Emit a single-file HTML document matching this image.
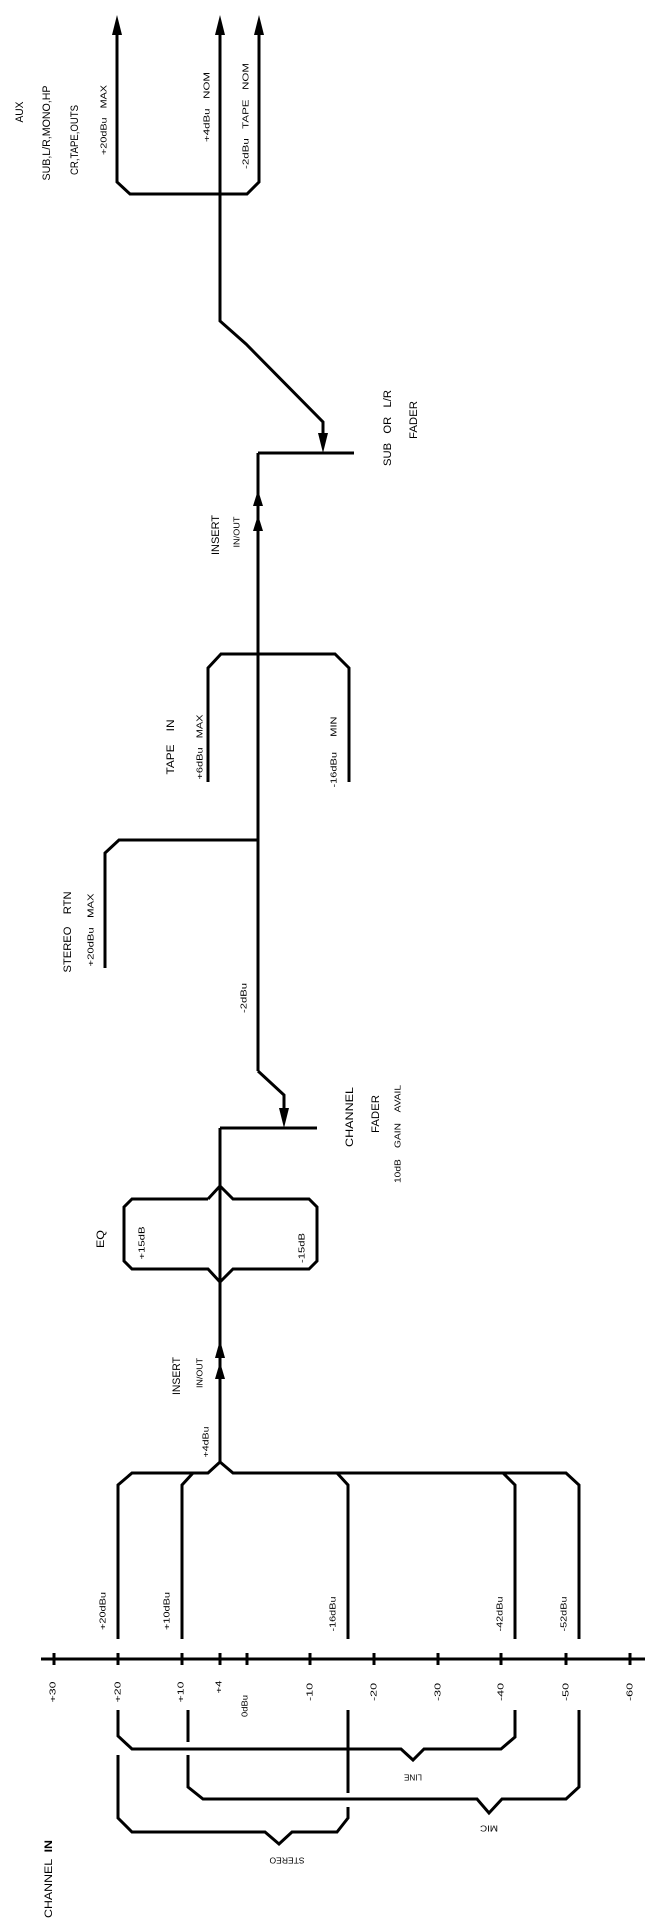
<!DOCTYPE html>
<html><head><meta charset="utf-8"><style>
html,body{margin:0;padding:0;background:#fff}
svg{display:block}
text{font-family:"Liberation Sans",sans-serif;fill:#000}
.b{font-size:11px}.s{font-size:8px}
</style></head><body>
<svg width="645" height="1926" viewBox="0 0 645 1926" xmlns="http://www.w3.org/2000/svg">
<g fill="none" stroke="#000" stroke-width="3" stroke-linejoin="miter">
<polyline points="117,30 117,182 130,194 247,194 259,182 259,30"/>
<polyline points="220,30 220,321 246,344 323,422 323,440"/>
<line x1="258" y1="453" x2="354" y2="453"/>
<line x1="258" y1="453" x2="258" y2="1071"/>
<polyline points="208,782 208,668 221,654 335,654 349,668 349,782"/>
<polyline points="105,968 105,853 119,840 258,840"/>
<polyline points="258,1071 284,1095 284,1115"/>
<line x1="220" y1="1128" x2="317" y2="1128"/>
<line x1="220" y1="1128" x2="220" y2="1462"/>
<polyline points="208,1199 132,1199 124,1207 124,1261 132,1269 208,1269 220,1282 233,1269 309,1269 317,1261 317,1207 309,1199 233,1199 220,1186 208,1199"/>
<polyline points="118,1639 118,1485 132,1473 208,1473 220,1462 233,1473 566,1473 579,1485 579,1639"/>
<polyline points="182,1639 182,1485 193,1473"/>
<polyline points="348,1639 348,1485 337,1473"/>
<polyline points="515,1639 515,1485 503,1473"/>
<line x1="41" y1="1659" x2="645" y2="1659"/>
<polyline points="118,1710 118,1736 132,1749 401,1749 413,1760 424,1749 501,1749 515,1737 515,1710"/>
<polyline points="118,1755 118,1818 132,1832 265,1832 279,1844 292,1832 337,1832 348,1818 348,1807"/>
<line x1="348" y1="1710" x2="348" y2="1793"/>
<line x1="188" y1="1710" x2="188" y2="1742"/>
<polyline points="188,1755 188,1787 203,1799 477,1799 489,1813 502,1799 566,1799 579,1787 579,1710"/>
</g>
<g stroke="#000" stroke-width="3">
<line x1="54" y1="1653" x2="54" y2="1665"/><line x1="118" y1="1653" x2="118" y2="1665"/>
<line x1="182" y1="1653" x2="182" y2="1665"/><line x1="220" y1="1653" x2="220" y2="1665"/>
<line x1="247" y1="1653" x2="247" y2="1665"/><line x1="310" y1="1653" x2="310" y2="1665"/>
<line x1="374" y1="1653" x2="374" y2="1665"/><line x1="438" y1="1653" x2="438" y2="1665"/>
<line x1="501" y1="1653" x2="501" y2="1665"/><line x1="566" y1="1653" x2="566" y2="1665"/>
<line x1="630" y1="1653" x2="630" y2="1665"/>
</g>
<g fill="#000">
<polygon points="117,15 112,35 122,35"/>
<polygon points="220,15 215,35 225,35"/>
<polygon points="259,15 254,35 264,35"/>
<polygon points="323,453 318,433 328,433"/>
<polygon points="258,490 253,506 263,506"/>
<polygon points="258,515 253,531 263,531"/>
<polygon points="284,1128 279,1108 289,1108"/>
<polygon points="220,1340 215,1358 225,1358"/>
<polygon points="220,1362 215,1379 225,1379"/>
</g>
<g text-anchor="middle" dominant-baseline="central">
<text class="b" transform="translate(20,112) rotate(-90)" textLength="21" lengthAdjust="spacingAndGlyphs">AUX</text>
<text class="b" transform="translate(47,133) rotate(-90)" textLength="95" lengthAdjust="spacingAndGlyphs">SUB,L/R,MONO,HP</text>
<text class="b" transform="translate(75,140) rotate(-90)" textLength="70" lengthAdjust="spacingAndGlyphs">CR,TAPE,OUTS</text>
<text class="s" transform="translate(104,120) rotate(-90)" textLength="70" lengthAdjust="spacingAndGlyphs" xml:space="preserve">+20dBu   MAX</text>
<text class="s" transform="translate(207,107) rotate(-90)" textLength="70" lengthAdjust="spacingAndGlyphs" xml:space="preserve">+4dBu   NOM</text>
<text class="s" transform="translate(246,116) rotate(-90)" textLength="106" lengthAdjust="spacingAndGlyphs" xml:space="preserve">-2dBu   TAPE   NOM</text>
<text class="b" transform="translate(388,428) rotate(-90)" textLength="76" lengthAdjust="spacingAndGlyphs" xml:space="preserve">SUB   OR   L/R</text>
<text class="b" transform="translate(414,420) rotate(-90)" textLength="38" lengthAdjust="spacingAndGlyphs">FADER</text>
<text class="b" transform="translate(216,535) rotate(-90)" textLength="40" lengthAdjust="spacingAndGlyphs">INSERT</text>
<text class="s" transform="translate(237,532) rotate(-90)" textLength="31" lengthAdjust="spacingAndGlyphs">IN/OUT</text>
<text class="b" transform="translate(171,747) rotate(-90)" textLength="55" lengthAdjust="spacingAndGlyphs" xml:space="preserve">TAPE    IN</text>
<text class="s" transform="translate(200,747) rotate(-90)" textLength="65" lengthAdjust="spacingAndGlyphs" xml:space="preserve">+6dBu   MAX</text>
<text class="s" transform="translate(334,752) rotate(-90)" textLength="71" lengthAdjust="spacingAndGlyphs" xml:space="preserve">-16dBu     MIN</text>
<text class="b" transform="translate(68,932) rotate(-90)" textLength="81" lengthAdjust="spacingAndGlyphs" xml:space="preserve">STEREO    RTN</text>
<text class="s" transform="translate(91,930) rotate(-90)" textLength="73" lengthAdjust="spacingAndGlyphs" xml:space="preserve">+20dBu   MAX</text>
<text class="s" transform="translate(244,998) rotate(-90)" textLength="30" lengthAdjust="spacingAndGlyphs">-2dBu</text>
<text class="b" transform="translate(350,1117) rotate(-90)" textLength="60" lengthAdjust="spacingAndGlyphs">CHANNEL</text>
<text class="b" transform="translate(376,1114) rotate(-90)" textLength="38" lengthAdjust="spacingAndGlyphs">FADER</text>
<text class="s" transform="translate(398,1134) rotate(-90)" textLength="98" lengthAdjust="spacingAndGlyphs" xml:space="preserve">10dB    GAIN    AVAIL</text>
<text class="b" transform="translate(101,1239) rotate(-90)" textLength="18" lengthAdjust="spacingAndGlyphs">EQ</text>
<text class="s" transform="translate(142,1243) rotate(-90)" textLength="33" lengthAdjust="spacingAndGlyphs">+15dB</text>
<text class="s" transform="translate(302,1248) rotate(-90)" textLength="30" lengthAdjust="spacingAndGlyphs">-15dB</text>
<text class="b" transform="translate(177,1376) rotate(-90)" textLength="38" lengthAdjust="spacingAndGlyphs">INSERT</text>
<text class="s" transform="translate(200,1373) rotate(-90)" textLength="30" lengthAdjust="spacingAndGlyphs">IN/OUT</text>
<text class="s" transform="translate(206,1442) rotate(-90)" textLength="31" lengthAdjust="spacingAndGlyphs">+4dBu</text>
<text class="s" transform="translate(103,1611) rotate(-90)" textLength="38" lengthAdjust="spacingAndGlyphs">+20dBu</text>
<text class="s" transform="translate(167,1611) rotate(-90)" textLength="38" lengthAdjust="spacingAndGlyphs">+10dBu</text>
<text class="s" transform="translate(333,1614) rotate(-90)" textLength="35" lengthAdjust="spacingAndGlyphs">-16dBu</text>
<text class="s" transform="translate(500,1614) rotate(-90)" textLength="35" lengthAdjust="spacingAndGlyphs">-42dBu</text>
<text class="s" transform="translate(564,1614) rotate(-90)" textLength="35" lengthAdjust="spacingAndGlyphs">-52dBu</text>
<text class="s" transform="translate(53,1692) rotate(-90)" textLength="21" lengthAdjust="spacingAndGlyphs">+30</text>
<text class="s" transform="translate(118,1692) rotate(-90)" textLength="21" lengthAdjust="spacingAndGlyphs">+20</text>
<text class="s" transform="translate(181,1692) rotate(-90)" textLength="21" lengthAdjust="spacingAndGlyphs">+10</text>
<text class="s" transform="translate(219,1687) rotate(-90)" textLength="13" lengthAdjust="spacingAndGlyphs">+4</text>
<text class="s" transform="translate(245,1706) rotate(-90)" textLength="22" lengthAdjust="spacingAndGlyphs">0dBu</text>
<text class="s" transform="translate(310,1692) rotate(-90)" textLength="18" lengthAdjust="spacingAndGlyphs">-10</text>
<text class="s" transform="translate(374,1692) rotate(-90)" textLength="18" lengthAdjust="spacingAndGlyphs">-20</text>
<text class="s" transform="translate(438,1692) rotate(-90)" textLength="18" lengthAdjust="spacingAndGlyphs">-30</text>
<text class="s" transform="translate(501,1692) rotate(-90)" textLength="18" lengthAdjust="spacingAndGlyphs">-40</text>
<text class="s" transform="translate(566,1692) rotate(-90)" textLength="18" lengthAdjust="spacingAndGlyphs">-50</text>
<text class="s" transform="translate(630,1692) rotate(-90)" textLength="18" lengthAdjust="spacingAndGlyphs">-60</text>
<text class="s" transform="translate(413,1777) rotate(180)" textLength="18" lengthAdjust="spacingAndGlyphs">LINE</text>
<text class="s" transform="translate(489,1828) rotate(180)" textLength="18" lengthAdjust="spacingAndGlyphs">MIC</text>
<text class="s" transform="translate(287,1860) rotate(180)" textLength="35" lengthAdjust="spacingAndGlyphs">STEREO</text>
<text class="b" transform="translate(49,1879) rotate(-90)" textLength="78" lengthAdjust="spacingAndGlyphs" xml:space="preserve">CHANNEL  <tspan font-weight="bold">IN</tspan></text>
</g>
</svg>
</body></html>
